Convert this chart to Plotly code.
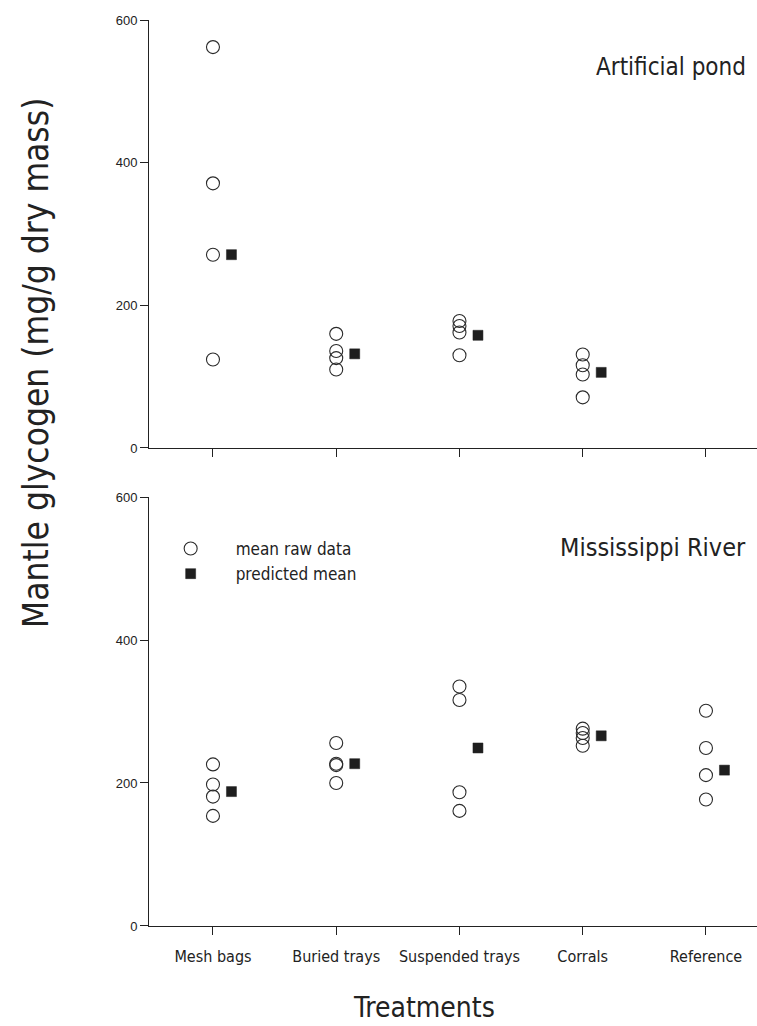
import plotly.graph_objects as go

categories = ["Mesh bags", "Buried trays", "Suspended trays", "Corrals", "Reference"]
pond_raw = [[562, 371, 271, 124], [160, 136, 126, 110], [178, 171, 162, 130], [131, 116, 103, 71], []]
pond_pred = [271, 132, 158, 106, None]
river_raw = [[226, 198, 181, 154], [256, 227, 225, 200], [335, 316, 187, 161], [276, 270, 263, 252], [301, 249, 211, 177]]
river_pred = [188, 227, 249, 266, 218]
yticks = [0, 200, 400, 600]

NARROW = "DejaVu Sans Condensed, Liberation Sans Narrow, Liberation Sans, Arial, sans-serif"
REG = "Liberation Sans, Arial, sans-serif"
OFFSET = 0.15
pos = list(range(1, len(categories) + 1))


def raw_xy(raw):
    xs, ys = [], []
    for p, vals in zip(pos, raw):
        for v in vals:
            xs.append(p)
            ys.append(v)
    return xs, ys


circle = dict(symbol="circle-open", size=13, color="#2a2a2a", line=dict(width=1.1, color="#2a2a2a"))
square = dict(symbol="square", size=10, color="#1e1e1e", line=dict(width=0.5, color="#1e1e1e"))

fig = go.Figure()
for (raw, pred, xa, ya, show) in [(pond_raw, pond_pred, "x", "y", False), (river_raw, river_pred, "x2", "y2", True)]:
    xs, ys = raw_xy(raw)
    fig.add_trace(go.Scatter(x=xs, y=ys, mode="markers", marker=circle, xaxis=xa, yaxis=ya,
                             name="mean raw data", showlegend=show, legendgroup="a"))
    px = [p + OFFSET for p, v in zip(pos, pred) if v is not None]
    py = [v for v in pred if v is not None]
    fig.add_trace(go.Scatter(x=px, y=py, mode="markers", marker=square, xaxis=xa, yaxis=ya,
                             name="predicted mean", showlegend=show, legendgroup="b"))

xcommon = dict(range=[0.481, 5.414], tickvals=pos, showline=True, linecolor="#222", linewidth=1,
               ticks="outside", ticklen=8, tickcolor="#222", showgrid=False, zeroline=False)
ycommon = dict(range=[0, 600], tickvals=yticks, showline=True, linecolor="#222", linewidth=1,
               ticks="outside", ticklen=8, tickcolor="#222", showgrid=False, zeroline=False,
               tickfont=dict(family=REG, size=13, color="#222"), ticklabelstandoff=0)

fig.update_layout(
    width=757, height=1026,
    margin=dict(l=149, r=0, t=20, b=100),
    plot_bgcolor="white", paper_bgcolor="white",
    xaxis=dict(xcommon, domain=[0, 1], anchor="y", showticklabels=False),
    yaxis=dict(ycommon, domain=[0.5276, 1], anchor="x"),
    xaxis2=dict(xcommon, domain=[0, 1], anchor="y2", ticktext=categories, ticklabelstandoff=8,
                tickfont=dict(family=NARROW, size=16, color="#222")),
    yaxis2=dict(ycommon, domain=[0, 0.4735], anchor="x2"),
    legend=dict(x=-0.0055, y=0.436, xanchor="left", yanchor="top", bgcolor="rgba(0,0,0,0)",
                font=dict(family=NARROW, size=17, color="#222"), itemwidth=80, tracegroupgap=0),
    showlegend=True,
    annotations=[
        dict(text="Artificial pond", xref="paper", yref="paper", x=0.985, y=0.948, xanchor="right",
             yanchor="middle", showarrow=False, font=dict(family=NARROW, size=24, color="#222")),
        dict(text="Mississippi River", xref="paper", yref="paper", x=0.985, y=0.418, xanchor="right",
             yanchor="middle", showarrow=False, font=dict(family=NARROW, size=25, color="#222")),
        dict(text="Mantle glycogen (mg/g dry mass)", xref="paper", yref="paper", x=-0.185, y=0.621,
             xanchor="center", yanchor="middle", textangle=-90, showarrow=False,
             font=dict(family=NARROW, size=35, color="#222")),
        dict(text="Treatments", xref="paper", yref="paper", x=0.452, y=-0.09, xanchor="center",
             yanchor="middle", showarrow=False, font=dict(family=NARROW, size=28, color="#222")),
    ],
)

fig.write_html("out.html", config={"displayModeBar": False},
               post_script="document.body.style.margin='0';document.body.style.overflow='hidden';")
